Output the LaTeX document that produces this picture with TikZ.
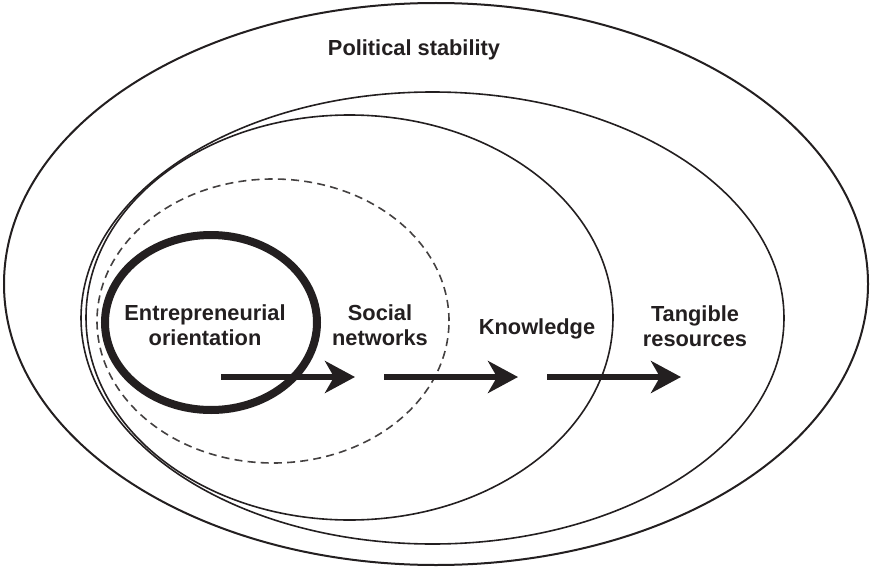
\documentclass[tikz,border=0pt]{standalone}
\usepackage{fontspec}
\setmainfont{Liberation Sans}
\usepackage{xcolor}
\usepackage{tikz}
\usetikzlibrary{positioning,calc,arrows.meta}

\definecolor{inkgray}{HTML}{231F20}

\begin{document}
\begin{tikzpicture}[
		x=0.5pt, y=-0.5pt,
		font=\bfseries\fontsize{10.9}{12.6}\selectfont,
		% Style cho các vòng elip
		ring/.style={draw=inkgray, line width=0.8pt},
		% Style cho nhãn chữ
		lbl/.style={text=inkgray, align=center, inner sep=0pt},
		% Style cho mũi tên dày
		flow_arrow/.style={
			-{Stealth[length=15pt, width=16pt, inset=4.5pt]},
			inkgray, line width=2.6pt
		}
		]
		\useasboundingbox (0,0) rectangle (872,567);
		
		% --- CÁC VÒNG ELIP ---
		% Vòng ngoài cùng
		\draw[ring, line width=1pt] (436,284) ellipse [x radius=216pt, y radius=140.5pt];
		% Vòng tangible resources
		\draw[ring] (432.5,318) ellipse [x radius=175.75pt, y radius=113pt];
		% Vòng knowledge
		\draw[ring] (349.5,317.5) ellipse [x radius=131.75pt, y radius=101.25pt];
		% Vòng social networks (nét đứt)
		\draw[ring, draw=inkgray!85, dash pattern=on 4pt off 2.6pt] (273,321) ellipse [x radius=88pt, y radius=71pt];
		% Vòng entrepreneurial orientation (nét đậm)
		\draw[ring, line width=4pt] (211,322.5) ellipse [x radius=53pt, y radius=43.75pt];
		
		% --- NHÃN ---
		\node[lbl] (pol) at (414,50) {Political stability};
		\node[lbl] (eo) at (205,325.5) {Entrepreneurial\\orientation};
		\node[lbl] (sn) at (380,325.5) {Social\\networks};
		\node[lbl] (kn) at (537,329) {Knowledge};
		\node[lbl] (tr) at (695,326) {Tangible\\resources};
		
		% --- MŨI TÊN ---
		\coordinate (a1s) at (221,377);
		\coordinate (a1e) at (355,377);
		\coordinate (a2s) at (384,377);
		\coordinate (a2e) at (518,377);
		\coordinate (a3s) at (547,377);
		\coordinate (a3e) at (681,377);
		\draw[flow_arrow] (a1s) -- (a1e);
		\draw[flow_arrow] (a2s) -- (a2e);
		\draw[flow_arrow] (a3s) -- (a3e);
		
	\end{tikzpicture}
\end{document}
